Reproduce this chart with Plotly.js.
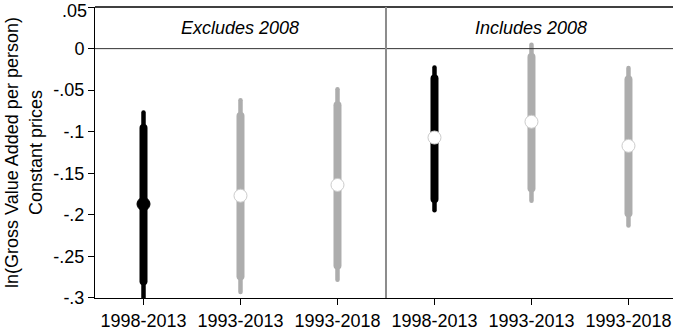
<!DOCTYPE html>
<html>
<head>
<meta charset="utf-8">
<script src="https://cdn.plot.ly/plotly-3.0.1.min.js"></script>
<style>
html,body{margin:0;padding:0;background:#fff;}
#chart{width:673px;height:334px;}
.js-line{stroke-linecap:round;}
</style>
</head>
<body>
<div id="chart"></div>
<script>
// ---- data ----
const periods = ['1998-2013', '1993-2013', '1993-2018'];
const panelTitles = ['Excludes 2008', 'Includes 2008'];

// Excludes 2008
const exclEst    = [-0.187, -0.177, -0.164];
const exclThickLo = [-0.280, -0.274, -0.261];
const exclThickHi = [-0.0955, -0.081, -0.068];
const exclThinLo  = [-0.305, -0.293, -0.278];
const exclThinHi  = [-0.077, -0.062, -0.049];

// Includes 2008
const inclEst    = [-0.107, -0.088, -0.117];
const inclThickLo = [-0.181, -0.168, -0.198];
const inclThickHi = [-0.036, -0.010, -0.037];
const inclThinLo  = [-0.1945, -0.183, -0.213];
const inclThinHi  = [-0.0226, 0.0047, -0.0233];

const yTickVals = [0.05, 0, -0.05, -0.1, -0.15, -0.2, -0.25, -0.3];
const yTickText = ['.05', '0', '-.05', '-.1', '-.15', '-.2', '-.25', '-.3'];

// ---- build ----
const BLACK = '#000000', GREY = '#adadad';
const panels = [
  {est: exclEst, tlo: exclThickLo, thi: exclThickHi, nlo: exclThinLo, nhi: exclThinHi, filledFirst: true},
  {est: inclEst, tlo: inclThickLo, thi: inclThickHi, nlo: inclThinLo, nhi: inclThinHi, filledFirst: false}
];
const traces = [];
const tickVals = [], tickText = [];
panels.forEach((p, pi) => {
  periods.forEach((per, i) => {
    const x = pi * 3 + i;
    tickVals.push(x); tickText.push(per);
    const col = i === 0 ? BLACK : GREY;
    traces.push({x: [x, x], y: [p.nlo[i], p.nhi[i]], mode: 'lines', line: {color: col, width: 4.5}, hoverinfo: 'skip', showlegend: false});
    traces.push({x: [x, x], y: [p.tlo[i], p.thi[i]], mode: 'lines', line: {color: col, width: 8}, hoverinfo: 'skip', showlegend: false});
    const filled = (i === 0 && p.filledFirst);
    traces.push({x: [x], y: [p.est[i]], mode: 'markers', cliponaxis: false,
      marker: {size: 13, color: filled ? BLACK : '#ffffff', line: {color: filled ? BLACK : '#cccccc', width: 1}},
      showlegend: false});
  });
});

// top label (at the very edge of the figure) is drawn as an annotation so it stays inside the page
const yMax = yTickVals[0];
const yTickTextAxis = yTickText.map((t, i) => yTickVals[i] === yMax ? '' : t);

const font = {family: '"Liberation Sans", Arial, Helvetica, sans-serif', size: 18, color: '#000'};
const annotations = panelTitles.map((t, pi) => ({
  x: pi * 3 + 1, y: 0.025, xref: 'x', yref: 'y', text: '<i>' + t + '</i>', showarrow: false,
  font: font, xanchor: 'center', yanchor: 'middle'
}));
annotations.push({
  x: 0, y: 1, xref: 'paper', yref: 'paper', text: yTickText[0], showarrow: false,
  font: font, xanchor: 'right', yanchor: 'top', xshift: -7, yshift: 7, borderpad: 0
});

const layout = {
  width: 673, height: 334,
  margin: {l: 95, r: 0, t: 7, b: 36, pad: 0},
  paper_bgcolor: '#fff', plot_bgcolor: '#fff',
  font: font,
  showlegend: false,
  xaxis: {
    range: [-0.5, 5.459], tickmode: 'array', tickvals: tickVals, ticktext: tickText,
    showgrid: false, zeroline: false, showline: true, linecolor: '#000', linewidth: 1,
    ticks: 'outside', ticklen: 6, tickcolor: '#000', tickwidth: 1, tickfont: font,
    ticklabeloverflow: 'allow', fixedrange: true
  },
  yaxis: {
    range: [-0.3001, 0.0501], tickmode: 'array', tickvals: yTickVals, ticktext: yTickTextAxis,
    showgrid: false, zeroline: false, showline: true, linecolor: '#000', linewidth: 1,
    ticks: 'outside', ticklen: 6, tickcolor: '#000', tickwidth: 1, tickfont: font,
    ticklabeloverflow: 'allow',
    title: {text: 'ln(Gross Value Added per person)<br>Constant prices', font: font, standoff: 6},
    fixedrange: true
  },
  shapes: [
    {type: 'line', xref: 'paper', yref: 'y', x0: 0, x1: 1, y0: 0, y1: 0, line: {color: '#333', width: 1}},
    {type: 'line', xref: 'paper', yref: 'paper', x0: 0, x1: 1, y0: 1, y1: 1, line: {color: '#000', width: 1.5}},
    {type: 'line', xref: 'x', yref: 'paper', x0: 2.5, x1: 2.5, y0: 0, y1: 1, line: {color: '#8c8c8c', width: 2}}
  ],
  annotations: annotations
};
Plotly.newPlot('chart', traces, layout, {displayModeBar: false, staticPlot: true});
</script>
</body>
</html>
